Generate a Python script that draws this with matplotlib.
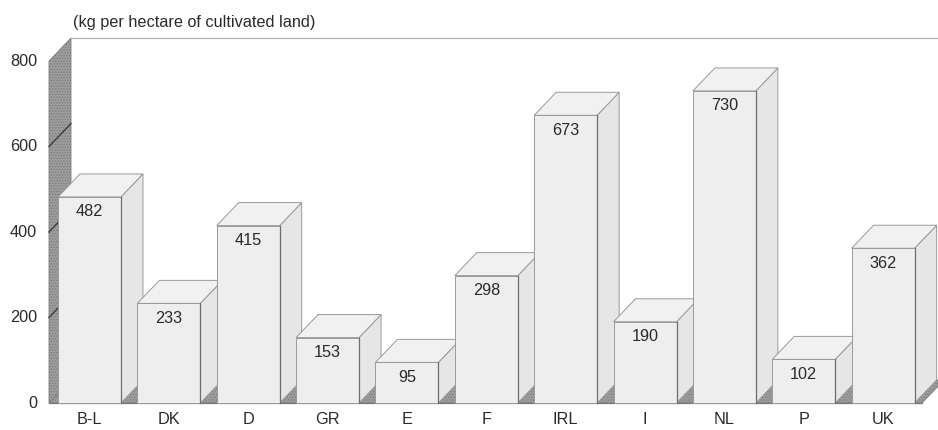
import matplotlib
matplotlib.use("Agg")
import matplotlib.pyplot as plt
from matplotlib.patches import Polygon, Rectangle

# Fertiliser use per hectare of cultivated land
countries = ["B-L", "DK", "D", "GR", "E", "F", "IRL", "I", "NL", "P", "UK"]
values = [482, 233, 415, 153, 95, 298, 673, 190, 730, 102, 362]
yticks = [0, 200, 400, 600, 800]
title = "(kg per hectare of cultivated land)"

plt.rcParams["font.family"] = ["Liberation Sans", "DejaVu Sans"]
plt.rcParams["hatch.linewidth"] = 0.6
plt.rcParams["hatch.color"] = "#5e5e5e"

W, H, DPI = 938, 430, 100
fig = plt.figure(figsize=(W / DPI, H / DPI), dpi=DPI)
fig.patch.set_facecolor("white")

FS = 11.7
TXT = "#2a2a2a"

# front plane of the chart box, in pixels
left_px, right_px, base_px, top_px = 49, 922, 403, 61
ax = fig.add_axes([left_px / W, (H - base_px) / H,
                   (right_px - left_px) / W, (base_px - top_px) / H])
x0, x1 = -0.51, 10.49
ax.set_xlim(x0, x1)
ax.set_ylim(0, 800)
ax.axis("off")

# depth of the pseudo-3D box expressed in data units
px_x = (right_px - left_px) / (x1 - x0)
px_y = (base_px - top_px) / 800.0
dx = 22 / px_x
dy = 23 / px_y
bar_w = 63 / px_x

wall_col = "#9d9d9d"

# left wall
wall = Polygon([(x0, 0), (x0, 800), (x0 + dx, 800 + dy), (x0 + dx, dy)],
               closed=True, facecolor=wall_col, edgecolor="#7a7a7a",
               lw=0.6, hatch="......", clip_on=False, zorder=1)
ax.add_patch(wall)
for t in yticks[1:-1]:
    ax.plot([x0, x0 + dx], [t, t + dy], color="#3c3c3c", lw=1.0,
            clip_on=False, zorder=2)

# floor
floor = Polygon([(x0, 0), (x1, 0), (x1 + dx, dy), (x0 + dx, dy)],
                closed=True, facecolor=wall_col, edgecolor="#7a7a7a",
                lw=0.6, hatch="......", clip_on=False, zorder=1)
ax.add_patch(floor)
ax.plot([x0, x1], [0, 0], color="#7a7a7a", lw=0.9, clip_on=False, zorder=2)

# back wall top edge
ax.plot([x0 + dx, x1 + dx + 0.3], [800 + dy, 800 + dy], color="#b0b0b0",
        lw=0.9, clip_on=False, zorder=1)

# y tick labels
for t in yticks:
    ax.text(x0 - 12 / px_x, t, str(t), ha="right", va="center",
            fontsize=FS, color=TXT)

front_col = "#eeeeee"
side_col = "#e6e6e6"
top_col = "#f1f1f1"
edge_col = "#9a9a9a"

for i, (name, v) in enumerate(zip(countries, values)):
    xl, xr = i - bar_w / 2, i + bar_w / 2
    z = 3 + i
    side = Polygon([(xr, 0), (xr + dx, dy), (xr + dx, v + dy), (xr, v)],
                   closed=True, facecolor=side_col, edgecolor=edge_col,
                   lw=0.7, clip_on=False, zorder=z)
    top = Polygon([(xl, v), (xr, v), (xr + dx, v + dy), (xl + dx, v + dy)],
                  closed=True, facecolor=top_col, edgecolor=edge_col,
                  lw=0.7, clip_on=False, zorder=z)
    front = Rectangle((xl, 0), bar_w, v, facecolor=front_col,
                      edgecolor=edge_col, lw=0.7, clip_on=False, zorder=z)
    ax.add_patch(side)
    ax.add_patch(top)
    ax.add_patch(front)
    ax.plot([xr, xr], [0, v], color="#6e6e6e", lw=0.9, zorder=z,
            clip_on=False)
    ax.text(i, v - 15 / px_y, str(v), ha="center", va="center",
            fontsize=FS, color=TXT, zorder=z + 0.5)
    ax.text(i, -17 / px_y, name, ha="center", va="center",
            fontsize=FS, color=TXT)

fig.text(73 / W, 1 - 22 / H, title, ha="left", va="center",
         fontsize=FS, color=TXT)

fig.savefig("out.png", dpi=DPI, facecolor="white")
